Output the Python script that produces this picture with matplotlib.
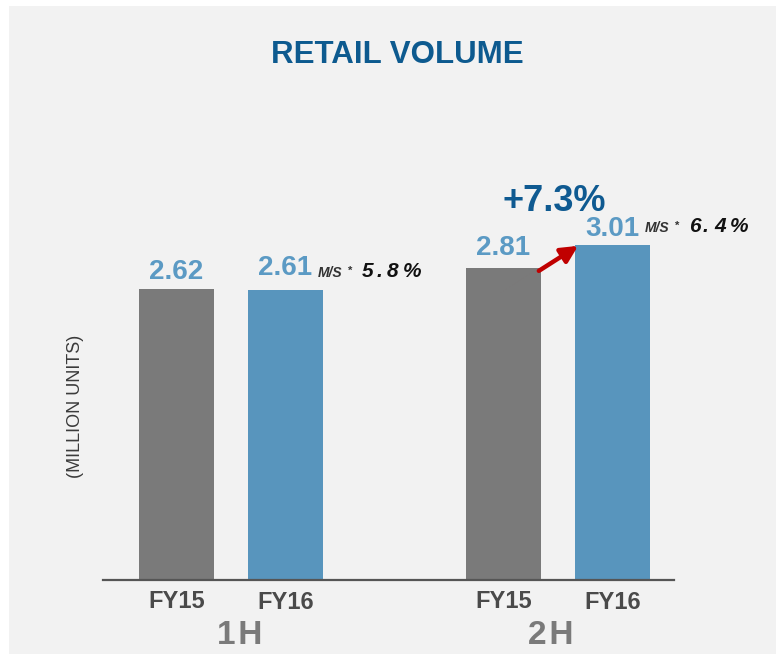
import matplotlib
matplotlib.use("Agg")
import matplotlib.pyplot as plt
from matplotlib.patches import Rectangle

# ---- data ----
periods = ["1\u200aH", "2\u200aH"]
tick_labels = ["FY15", "FY16", "FY15", "FY16"]
values = [2.62, 2.61, 2.81, 3.01]
market_share = ["5.8%", "6.4%"]
growth_label = "+7.3%"

W, H = 776, 654
PT = 0.72  # points per pixel at dpi 100
fig = plt.figure(figsize=(W / 100, H / 100), dpi=100)
fig.patch.set_facecolor("white")
fig.patches.append(Rectangle((9 / W, 0), 1, 1 - 6 / H, transform=fig.transFigure,
                             facecolor="#f2f2f2", edgecolor="none", zorder=-10))

px_per_unit = 111.2
ytop = 3.6
ax_h = ytop * px_per_unit
ax = fig.add_axes([103 / W, 74 / H, (674 - 103) / W, ax_h / H])
ax.set_facecolor("none")

positions = [0, 1, 3, 4]
width = 0.69
colors = ["#7a7a7a", "#5895bd", "#7a7a7a", "#5895bd"]
ax.bar(positions, values, width=width, color=colors, zorder=2)
ax.set_xlim(-0.674, 4.565)
ax.set_ylim(0, ytop)

for s in ["top", "right", "left"]:
    ax.spines[s].set_visible(False)
ax.spines["bottom"].set_color("#555555")
ax.spines["bottom"].set_linewidth(1.6)
ax.set_yticks([])
ax.set_xticks(positions)
ax.set_xticklabels(tick_labels, fontsize=17, fontweight="bold", color="#4a4a4a",
                   family="Liberation Sans")
ax.tick_params(axis="x", length=0, pad=7)
for i, lab in enumerate(ax.get_xticklabels()):
    if i % 2 == 1:
        lab.set_y(-0.004)

# value labels
gaps = [4, 9, 7, 3]
for p, v, g in zip(positions, values, gaps):
    ax.annotate(f"{v:.2f}", (p, v), xytext=(0, g * PT), textcoords="offset points",
                ha="center", va="bottom", fontsize=20, fontweight="bold",
                color="#5b9ac4", family="Liberation Sans")

# market share annotations
ms_pos = [(1, values[1]), (4, values[3])]
char_dx = [0, 14, 25, 41]
for (p, v), ms in zip(ms_pos, market_share):
    anchor = (p + width / 2, v)
    ax.annotate("M/S", anchor, xytext=(-5 * PT, 13 * PT), textcoords="offset points",
                ha="left", va="baseline", fontsize=10, fontweight="bold", fontstyle="italic",
                color="#333333", family="Liberation Sans")
    ax.annotate("*", anchor, xytext=(25 * PT, 16 * PT), textcoords="offset points",
                ha="left", va="baseline", fontsize=8, fontweight="bold",
                color="#333333", family="Liberation Sans")
    for ch, dx in zip(ms, char_dx):
        ax.annotate(ch, anchor, xytext=((39 + dx) * PT, 13 * PT), textcoords="offset points",
                    ha="left", va="baseline", fontsize=15, fontweight="bold",
                    fontstyle="italic", color="#111111", family="Liberation Sans")

# growth arrow
ax.annotate("", xy=(4 - width / 2 + 0.03, values[3] - 0.005),
            xytext=(3 + width / 2 - 0.02, values[2] - 0.03),
            arrowprops=dict(arrowstyle="-|>,head_length=1.0,head_width=0.5",
                        color="#c00000", lw=3.2, shrinkA=0, shrinkB=0), zorder=3)
fig.text(554 / W, 1 - 201 / H, growth_label, ha="center", va="center", fontsize=26,
         fontweight="bold", color="#0f5a91", family="Liberation Sans")

# period labels
for x, t in zip([240, 551], periods):
    fig.text(x / W, 1 - 635 / H, t, ha="center", va="center", fontsize=24,
             fontweight="bold", color="#7a7a7a", family="Liberation Sans")

# title
fig.text(397 / W, 1 - 55 / H, "RETAIL VOLUME", ha="center", va="center", fontsize=22.5,
         fontweight="bold", color="#0d5a8f", family="Liberation Sans")

# y label
fig.text(75 / W, 1 - 406 / H, "(MILLION UNITS)", ha="center", va="center", rotation=90,
         fontsize=13, color="#3a3a3a", family="Liberation Sans")

fig.savefig("out.png", dpi=100, facecolor=fig.get_facecolor())
